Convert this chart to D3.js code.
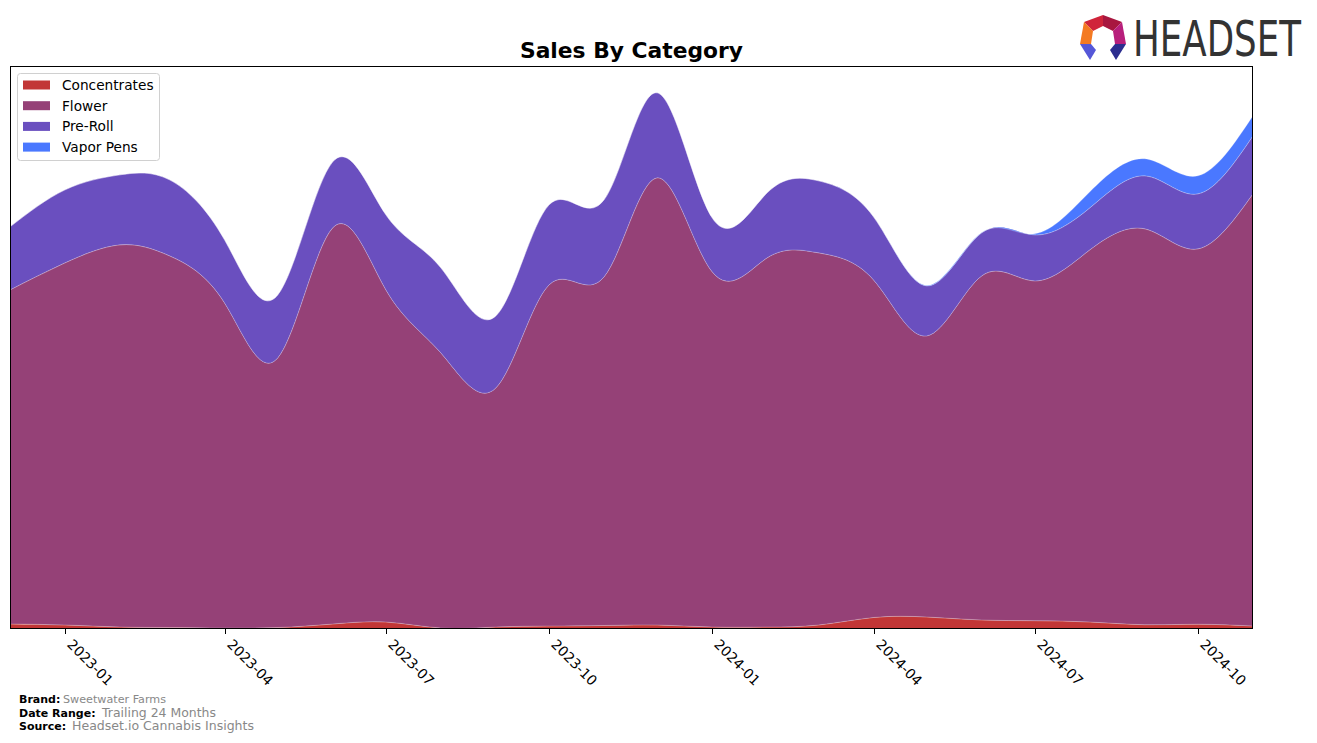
<!DOCTYPE html>
<html><head><meta charset="utf-8">
<script src="https://cdn.jsdelivr.net/npm/d3@7"></script>
<style>body{margin:0;background:#fff}svg{display:block}</style>
</head><body>
<svg id="chart" width="1317" height="743"></svg>
<script>
const months = ["2022-12","2023-01","2023-02","2023-03","2023-04","2023-05","2023-06","2023-07","2023-08","2023-09","2023-10","2023-11","2023-12","2024-01","2024-02","2024-03","2024-04","2024-05","2024-06","2024-07","2024-08","2024-09","2024-10","2024-11"];
const categories = ["Concentrates","Flower","Pre-Roll","Vapor Pens"];
const concentrates = [500,400,200,150,100,150,500,700,100,200,300,350,400,200,200,400,1150,1200,900,830,700,430,480,300];
const flower = [33400,36200,38200,37150,32500,26950,39600,33200,27500,23900,34100,34850,44700,35500,36900,37200,33750,28100,34400,33970,37200,39570,37520,43200];
const preRoll = [6300,7300,7000,7600,6300,6300,6600,7500,8500,7200,8000,7700,8500,5400,6500,7200,6300,5000,4300,4600,4200,5300,5500,5800];
const vaporPens = [0,0,0,0,0,0,0,0,0,0,0,0,0,0,0,0,0,50,30,100,1600,1700,1800,2000];
const tickLabels = ["2023-01","2023-04","2023-07","2023-10","2024-01","2024-04","2024-07","2024-10"];
const colors = ["#c23636","#954177","#6a4fbf","#4a78ff"];

const svg = d3.select("#chart");
const L = 10, R = 1253, T = 66, B = 629;
const parse = d3.timeParse("%Y-%m");
const rows = months.map((m,i)=>({date: parse(m), "Concentrates": concentrates[i], "Flower": flower[i], "Pre-Roll": preRoll[i], "Vapor Pens": vaporPens[i]}));
const x = d3.scaleTime().domain(d3.extent(rows, d=>d.date)).range([L, R]);
const totals = rows.map(d=>categories.reduce((s,k)=>s+d[k],0));
const y = d3.scaleLinear().domain([0, d3.max(totals)*1.05]).range([B, T]);
const stack = d3.stack().keys(categories)(rows);

svg.append("defs").append("clipPath").attr("id","clip").append("rect").attr("x",L).attr("y",T).attr("width",R-L).attr("height",B-T);
const area = d3.area().curve(d3.curveNatural).x(d=>x(d.data.date)).y0(d=>y(d[0])).y1(d=>y(d[1]));
svg.append("g").attr("clip-path","url(#clip)").selectAll("path").data(stack).join("path")
  .attr("d", area).attr("fill",(d,i)=>colors[i])
  .attr("stroke","rgba(255,255,255,0.35)").attr("stroke-width",0.6);

// frame
svg.append("rect").attr("x",L+0.5).attr("y",T+0.5).attr("width",R-L-1).attr("height",B-T-1)
  .attr("fill","none").attr("stroke","#000").attr("stroke-width",1);

// ticks
const ticks = tickLabels.map(parse);
const tg = svg.append("g");
ticks.forEach((t,i)=>{
  const tx = Math.round(x(t))+0.5;
  tg.append("line").attr("x1",tx).attr("x2",tx).attr("y1",B).attr("y2",B+5).attr("stroke","#000").attr("stroke-width",1);
  tg.append("text").attr("transform",`translate(${tx+8},${B+9}) rotate(45)`)
    .attr("font-family","DejaVu Sans").attr("font-size",13.9).attr("dominant-baseline","hanging")
    .attr("fill","#000").text(tickLabels[i]);
});

// title
svg.append("text").attr("x",(L+R)/2).attr("y",58).attr("text-anchor","middle")
  .attr("font-family","DejaVu Sans").attr("font-weight","bold").attr("font-size",21.8).text("Sales By Category");

// legend
const lg = svg.append("g");
lg.append("rect").attr("x",17.5).attr("y",73.5).attr("width",142).attr("height",87).attr("rx",3)
  .attr("fill","#fff").attr("fill-opacity",0.8).attr("stroke","#d0d0d0");
categories.forEach((c,i)=>{
  const cy = 85 + i*20.7;
  lg.append("rect").attr("x",23).attr("y",cy-4.5).attr("width",27).attr("height",9).attr("fill",colors[i]);
  lg.append("text").attr("x",62).attr("y",cy).attr("dominant-baseline","central")
    .attr("font-family","DejaVu Sans").attr("font-size",13.7).attr("fill","#000").text(c);
});

// footer
const foot = [["Brand:","Sweetwater Farms",699,63,103,11],["Date Range:","Trailing 24 Months",713,102,114,12.5],["Source:","Headset.io Cannabis Insights",726,72,182,12.5]];
foot.forEach(f=>{
  svg.append("text").attr("x",19).attr("y",f[2]+4).attr("font-family","DejaVu Sans").attr("font-weight","bold").attr("font-size",11).text(f[0]);
  svg.append("text").attr("x",f[3]).attr("y",f[2]+4).attr("font-family","DejaVu Sans").attr("font-size",f[5]).attr("fill","#888")
    .attr("textLength",f[4]).attr("lengthAdjust","spacingAndGlyphs").text(f[1]);
});

// logo
const lgo = svg.append("g");
const polys = [
  {p:"1103,15 1084,22 1093,31 1103,26", c:"#d0243a"},
  {p:"1103,15 1122,22 1113,31 1103,26", c:"#a8173f"},
  {p:"1084,22 1080,44 1091,44 1093,31", c:"#f47a22"},
  {p:"1122,22 1126,44 1115,44 1113,31", c:"#b81f7c"},
  {p:"1080,44 1090,60 1096,50 1091,44", c:"#5557d8"},
  {p:"1126,44 1116,60 1110,50 1115,44", c:"#2c2d8f"}
];
polys.forEach(d=>lgo.append("polygon").attr("points",d.p).attr("fill",d.c));
lgo.append("text").attr("x",1133).attr("y",56).attr("font-family","DejaVu Sans").attr("font-size",50)
  .attr("fill","#333").attr("textLength",168).attr("lengthAdjust","spacingAndGlyphs").text("HEADSET");
</script>
</body></html>
